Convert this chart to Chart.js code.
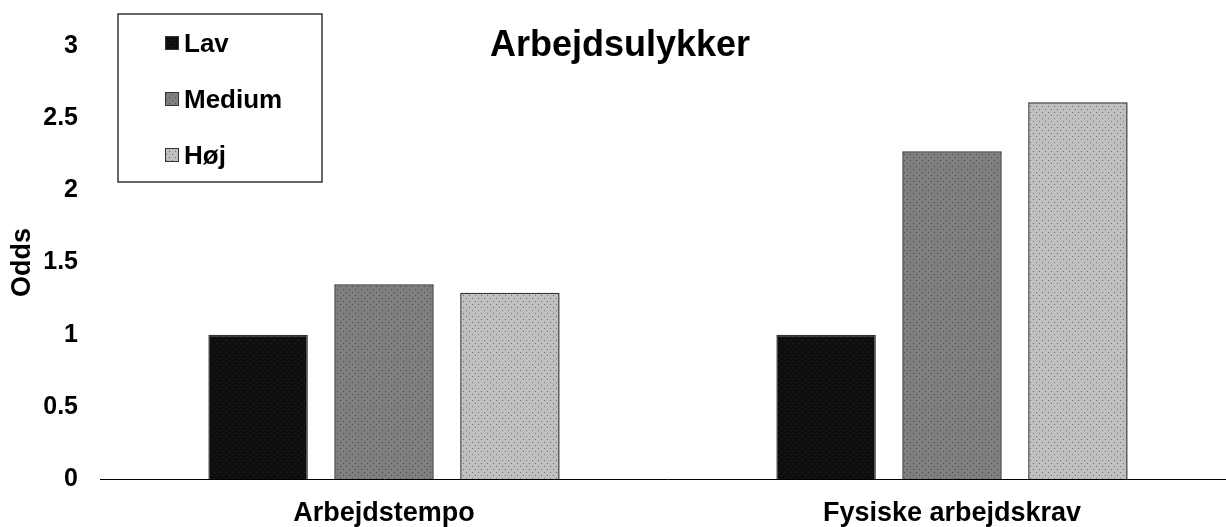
<!DOCTYPE html>
<html>
<head>
<meta charset="utf-8">
<script src="https://cdn.jsdelivr.net/npm/chart.js@4/dist/chart.umd.min.js"></script>
<style>
  html, body { margin: 0; padding: 0; background: #fff; overflow: hidden; }
  #wrap { width: 1236px; height: 527px; }
</style>
</head>
<body>
<div id="wrap"><canvas id="chart"></canvas></div>
<script>
// data
const categories = ['Arbejdstempo', 'Fysiske arbejdskrav'];
const seriesNames = ['Lav', 'Medium', 'Høj'];
const lavValues = [1.0, 1.0];
const mediumValues = [1.35, 2.27];
const hojValues = [1.29, 2.61];
const yTicks = [0, 0.5, 1, 1.5, 2, 2.5, 3];

const FONT = '"Liberation Sans", Arial, sans-serif';

// little dotted fill like the original
function dotPattern(base, dot) {
    const c = document.createElement('canvas');
    c.width = 6; c.height = 6;
    const g = c.getContext('2d');
    g.fillStyle = base;
    g.fillRect(0, 0, 6, 6);
    g.fillStyle = dot;
    g.fillRect(1, 1, 1, 1);
    g.fillRect(4, 4, 1, 1);
    return g.createPattern(c, 'repeat');
}
const ctx = document.getElementById('chart').getContext('2d');
const fills = [dotPattern('#0e0e0e', '#262626'), dotPattern('#7f7f7f', '#4a4a4a'), dotPattern('#c0c0c0', '#707070')];

// title + boxed legend drawn by hand
const extras = {
    id: 'extras',
    afterDraw(chart) {
        const c = chart.ctx;
        c.save();
        c.fillStyle = '#000';
        c.font = 'bold 36px ' + FONT;
        c.textAlign = 'center';
        c.textBaseline = 'alphabetic';
        c.fillText('Arbejdsulykker', 620, 56);

        c.strokeStyle = '#333';
        c.lineWidth = 1.5;
        c.strokeRect(118, 14, 204, 168);
        c.font = 'bold 26px ' + FONT;
        c.textAlign = 'left';
        chart.data.datasets.forEach((ds, i) => {
            const base = 52 + i * 56;
            c.fillStyle = ds.backgroundColor;
            c.fillRect(165, base - 16, 14, 14);
            c.lineWidth = 1;
            c.strokeStyle = '#333';
            c.strokeRect(165.5, base - 15.5, 13, 13);
            c.fillStyle = '#000';
            c.fillText(ds.label, 184, base);
        });
        c.restore();
    }
};

new Chart(ctx, {
    type: 'bar',
    data: {
        labels: categories,
        datasets: [
            { label: seriesNames[0], data: lavValues, backgroundColor: fills[0] },
            { label: seriesNames[1], data: mediumValues, backgroundColor: fills[1] },
            { label: seriesNames[2], data: hojValues, backgroundColor: fills[2] }
        ].map(d => Object.assign(d, {
            borderColor: '#333',
            borderWidth: 1.5,
            categoryPercentage: 0.665,
            barPercentage: 0.79
        }))
    },
    options: {
        responsive: true,
        maintainAspectRatio: false,
        animation: false,
        layout: { padding: { top: 46, right: 0, left: 0, bottom: 0 } },
        plugins: {
            legend: { display: false },
            tooltip: { enabled: false }
        },
        scales: {
            x: {
                afterFit: s => { s.height = 48; },
                grid: { display: false, drawTicks: false },
                border: { display: true, color: '#000', width: 1 },
                ticks: { color: '#000', font: { family: FONT, size: 27, weight: 'bold' }, padding: 18 }
            },
            y: {
                min: 0,
                max: 3,
                afterBuildTicks: s => { s.ticks = yTicks.map(v => ({ value: v })); },
                afterFit: s => { s.width = 100; },
                grid: { display: false, drawTicks: false },
                border: { display: false },
                ticks: {
                    color: '#000',
                    font: { family: FONT, size: 25, weight: 'bold' },
                    padding: 22,
                    callback: v => String(v)
                },
                title: {
                    display: true,
                    text: 'Odds',
                    color: '#000',
                    font: { family: FONT, size: 27, weight: 'bold' },
                    padding: { top: 6, bottom: 0 }
                }
            }
        }
    },
    plugins: [extras]
});
</script>
</body>
</html>
